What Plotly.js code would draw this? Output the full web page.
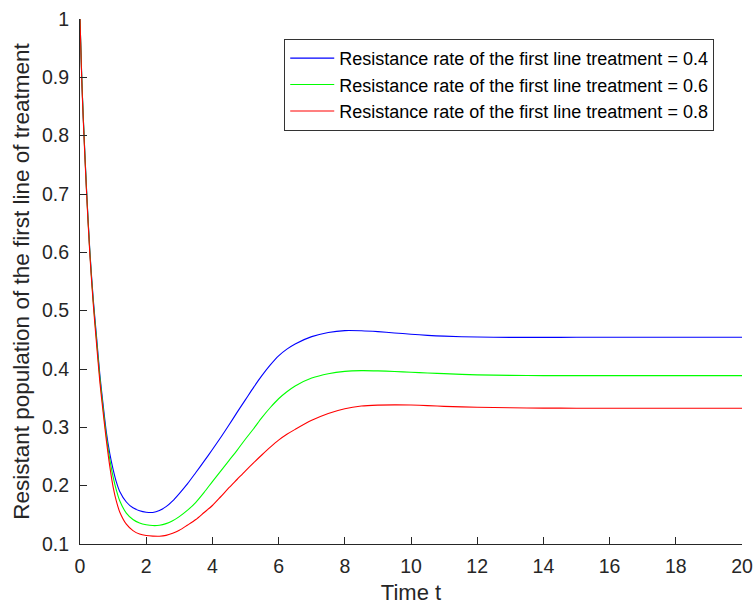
<!DOCTYPE html>
<html>
<head>
<meta charset="utf-8">
<script src="https://cdn.plot.ly/plotly-3.0.1.min.js"></script>
<style>html,body{margin:0;padding:0;background:#fff;}#chart{width:755px;height:605px;}</style>
</head>
<body>
<div id="chart"></div>
<script>
var time = [0, 0.05, 0.1, 0.2, 0.3, 0.4, 0.5, 0.6, 0.7, 0.8, 0.9, 1.0, 1.1, 1.2, 1.4, 1.6, 1.8, 2.0, 2.2, 2.4, 2.6, 2.8, 3.0, 3.25, 3.5, 3.75, 4.0, 4.25, 4.5, 4.75, 5.0, 5.25, 5.5, 5.75, 6.0, 6.25, 6.5, 7.0, 7.5, 8.0, 8.5, 9.0, 9.5, 10, 10.5, 11, 12, 13, 14, 15, 16, 17, 18, 19, 20];

var rate04 = [1.0, 0.905, 0.83, 0.705, 0.60, 0.52, 0.455, 0.39, 0.338, 0.29, 0.255, 0.228, 0.206, 0.19, 0.172, 0.162, 0.157, 0.1545, 0.1541, 0.1574, 0.164, 0.174, 0.1865, 0.2035, 0.2225, 0.242, 0.262, 0.2825, 0.304, 0.326, 0.3475, 0.369, 0.389, 0.407, 0.4225, 0.434, 0.443, 0.4555, 0.4625, 0.4658, 0.4655, 0.464, 0.4618, 0.4597, 0.4577, 0.4563, 0.4548, 0.4542, 0.4542, 0.4544, 0.4545, 0.4545, 0.4545, 0.4545, 0.4545];

var rate06 = [1.0, 0.905, 0.83, 0.703, 0.598, 0.516, 0.45, 0.385, 0.332, 0.283, 0.245, 0.215, 0.192, 0.174, 0.153, 0.142, 0.136, 0.133, 0.1316, 0.1321, 0.1349, 0.140, 0.147, 0.158, 0.1715, 0.1885, 0.207, 0.225, 0.243, 0.261, 0.280, 0.298, 0.317, 0.334, 0.349, 0.361, 0.371, 0.3845, 0.392, 0.396, 0.3972, 0.3968, 0.3957, 0.3945, 0.3932, 0.392, 0.390, 0.389, 0.3887, 0.3887, 0.3887, 0.3887, 0.3887, 0.3887, 0.3887];

var rate08 = [1.0, 0.90, 0.825, 0.70, 0.594, 0.512, 0.443, 0.378, 0.325, 0.276, 0.233, 0.198, 0.173, 0.155, 0.134, 0.123, 0.117, 0.1145, 0.1135, 0.1133, 0.1148, 0.1185, 0.1235, 0.1325, 0.142, 0.154, 0.166, 0.181, 0.1965, 0.211, 0.2255, 0.2395, 0.253, 0.266, 0.278, 0.288, 0.2965, 0.312, 0.3238, 0.332, 0.3365, 0.338, 0.3385, 0.3382, 0.3373, 0.336, 0.3345, 0.3335, 0.333, 0.3328, 0.3328, 0.3328, 0.3328, 0.3328, 0.3328];

var seriesNames = [
  'Resistance rate of the first line treatment = 0.4',
  'Resistance rate of the first line treatment = 0.6',
  'Resistance rate of the first line treatment = 0.8'
];
var seriesColors = ['#0000ff', '#00ff00', '#ff0000'];
var seriesValues = [rate04, rate06, rate08];

var xTicks = [0, 2, 4, 6, 8, 10, 12, 14, 16, 18, 20];
var yTicks = [0.1, 0.2, 0.3, 0.4, 0.5, 0.6, 0.7, 0.8, 0.9, 1];
var yTickText = ['0.1', '0.2', '0.3', '0.4', '0.5', '0.6', '0.7', '0.8', '0.9', '1'];

var font = 'Liberation Sans, Arial, Helvetica, sans-serif';
var axisColor = '#262626';

var traces = seriesValues.map(function (vals, i) {
  return {
    x: time, y: vals, type: 'scatter', mode: 'lines',
    name: seriesNames[i],
    line: {color: seriesColors[i], width: 1.1, shape: 'spline', smoothing: 0.8}
  };
});

var layout = {
  width: 755, height: 605,
  margin: {l: 80, r: 13, t: 19, b: 61},
  paper_bgcolor: '#ffffff', plot_bgcolor: '#ffffff',
  font: {family: font, color: axisColor, size: 19.5},
  showlegend: true,
  legend: {
    x: 0.3085, y: 0.962, xanchor: 'left', yanchor: 'top',
    bgcolor: '#ffffff', bordercolor: '#333333', borderwidth: 1,
    font: {family: font, size: 18, color: '#000000'},
    itemwidth: 44,
    tracegroupgap: 0
  },
  xaxis: {
    range: [0, 20], tickvals: xTicks, ticktext: xTicks.map(String),
    ticks: 'inside', ticklen: 7, tickwidth: 1, tickcolor: axisColor,
    showline: true, linecolor: axisColor, linewidth: 1,
    showgrid: false, zeroline: false, mirror: false,
    tickfont: {family: font, size: 19.5, color: axisColor},
    ticklabelstandoff: 5,
    title: {text: 'Time t', font: {family: font, size: 22, color: axisColor}, standoff: 10}
  },
  yaxis: {
    range: [0.1, 1], tickvals: yTicks, ticktext: yTickText,
    ticks: 'inside', ticklen: 7, tickwidth: 1, tickcolor: axisColor,
    showline: true, linecolor: axisColor, linewidth: 1,
    showgrid: false, zeroline: false, mirror: false,
    tickfont: {family: font, size: 19.5, color: axisColor},
    ticklabelstandoff: 6,
    title: {text: 'Resistant population of the first line of treatment', font: {family: font, size: 22.5, color: axisColor}, standoff: 6}
  }
};

Plotly.newPlot('chart', traces, layout, {displayModeBar: false, staticPlot: true});
</script>
</body>
</html>
